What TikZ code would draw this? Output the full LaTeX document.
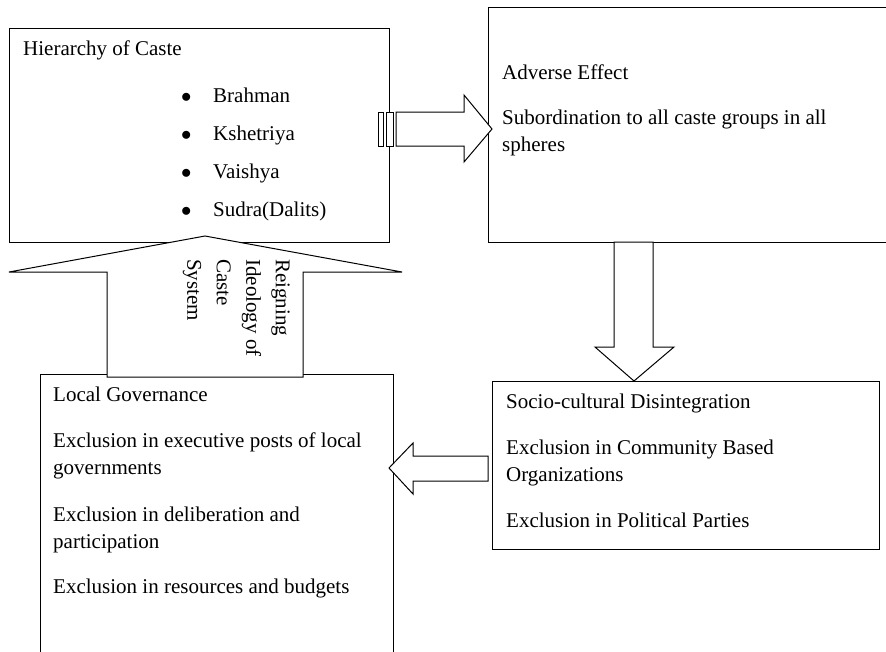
\documentclass[tikz,border=0pt]{standalone}
\usepackage{fontspec}
\setmainfont{Liberation Serif}
\usetikzlibrary{positioning}
\tikzset{box/.style={draw,line width=1pt,fill=white,inner sep=0pt,anchor=north west}}
\tikzset{fat/.style={draw,line width=1pt,fill=white,line join=miter}}
\tikzset{t/.style={inner sep=0pt,anchor=base west,align=left}}
\begin{document}
\begin{tikzpicture}[x=1pt,y=-1pt]
  \clip (0,0) rectangle (886,651);
  \node[box,minimum width=380pt,minimum height=214pt] (C) at (9,28) {};
  \node[box,minimum width=430pt,minimum height=235pt] (E) at (488,7) {};
  \node[box,minimum width=387pt,minimum height=168pt] (S) at (492,381) {};
  \node[box,minimum width=353pt,minimum height=300pt] (L) at (40,374) {};
  \filldraw[fat](378,112) rectangle (383,146);
  \filldraw[fat](386,112) rectangle (393,146);
  \filldraw[fat](396,112)--(464,112)--(464,95)--(492,129)--(464,162)--(464,146)--(396,146)--cycle;
  \filldraw[fat](614,242)--(653,242)--(653,347)--(674,347)--(634,381)--(595,347)--(614,347)--cycle;
  \filldraw[fat](488,456)--(413,456)--(413,443)--(389,468)--(413,494)--(413,481)--(488,481)--cycle;
  \filldraw[fat](107,377)--(107,272)--(9,272)--(205,236)--(402,272)--(303,272)--(303,377)--cycle;
  \begin{scope}[font=\fontsize{21}{27}\selectfont]
    \node[t] (ct) at (23,55) {Hierarchy of Caste};
    \foreach \txt [count=\i] in {Brahman,Kshetriya,Vaishya,Sudra(Dalits)}
      \node[t] (c\i) at (181,64+38*\i) {\makebox[32pt][l]{$\bullet$}\txt};
    \node[t] (et) at (502,79) {Adverse Effect};
    \node[t] (e1) at (502,151) {Subordination to all caste groups in all\\spheres};
    \node[t] (st) at (506,408) {Socio-cultural Disintegration};
    \node[t] (s1) at (506,481) {Exclusion in Community Based\\Organizations};
    \node[t] (s2) at (506,527) {Exclusion in Political Parties};
    \node[t] (lt) at (53,401) {Local Governance};
    \node[t] (l1) at (53,474) {Exclusion in executive posts of local\\governments};
    \node[t] (l2) at (53,548) {Exclusion in deliberation and\\participation};
    \node[t] (l3) at (53,593) {Exclusion in resources and budgets};
    \node[t,rotate=-90,anchor=north west,font=\fontsize{21}{29.5}\selectfont] (R) at (290,259)
      {Reigning\\Ideology of\\Caste\\System};
  \end{scope}
\end{tikzpicture}
\end{document}
